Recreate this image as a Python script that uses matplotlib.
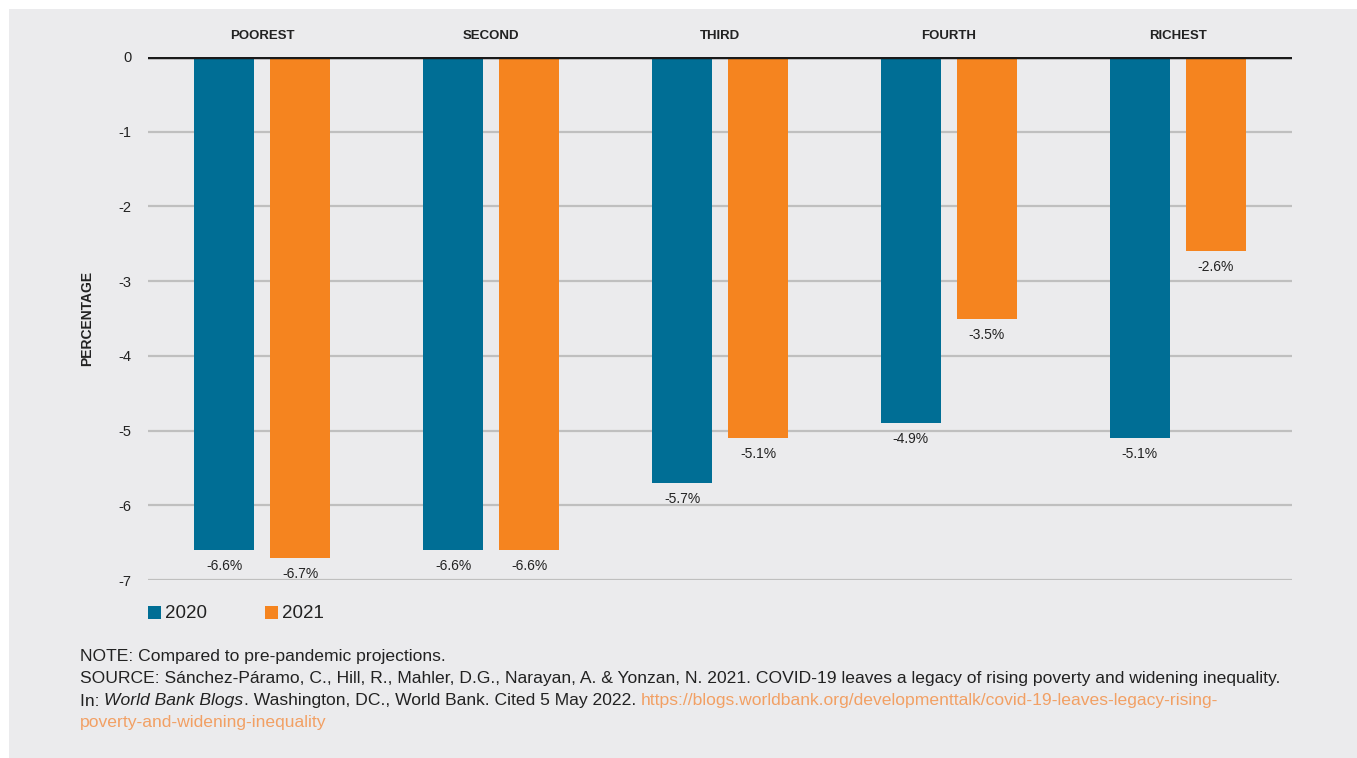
import matplotlib
matplotlib.use("Agg")
import matplotlib.pyplot as plt
from matplotlib.patches import Rectangle
import numpy as np

categories = ["POOREST", "SECOND", "THIRD", "FOURTH", "RICHEST"]
series_names = ["2020", "2021"]
values_2020 = [-6.6, -6.6, -5.7, -4.9, -5.1]
values_2021 = [-6.7, -6.6, -5.1, -3.5, -2.6]
y_ticks = [0, -1, -2, -3, -4, -5, -6, -7]

BLUE = "#006e95"
ORANGE = "#f5841f"
BG = "#ebebed"
LINK = "#f2a064"
TXT = "#222222"

FONT = ["Liberation Sans Narrow", "Liberation Sans", "DejaVu Sans"]
plt.rcParams["font.family"] = FONT

fig = plt.figure(figsize=(13.57, 7.58), dpi=100)
fig.patch.set_facecolor("white")
fig.add_artist(Rectangle((9 / 1357, 0), 1 - 9 / 1357, 1 - 9 / 758,
                         transform=fig.transFigure, facecolor=BG,
                         edgecolor="none", zorder=-10))

ax = fig.add_axes([148 / 1357, 1 - 580 / 758, (1292 - 148) / 1357, (580 - 57) / 758])
ax.set_facecolor("none")
ax.set_xlim(-0.5, 4.5)
ax.set_ylim(-7, 0)

x = np.arange(len(categories))
off = 0.166
w = 0.262
ax.bar(x - off, values_2020, width=w, color=BLUE, zorder=3)
ax.bar(x + off, values_2021, width=w, color=ORANGE, zorder=3)

for xs, vals in [(x - off, values_2020), (x + off, values_2021)]:
    for xi, v in zip(xs, vals):
        ax.text(xi, v - 0.215, f"{v:.1f}%", ha="center", va="center", fontsize=10,
                color=TXT, zorder=4, clip_on=False)

for t in y_ticks:
    if t == 0:
        ax.axhline(t, color="#1a1a1a", lw=2.5, zorder=5)
    else:
        ax.axhline(t, color="#bfbfbf", lw=1.6, zorder=1)

ax.set_yticks(y_ticks)
ax.set_yticklabels([str(t) for t in y_ticks], fontsize=10.5, color=TXT)
ax.tick_params(axis="y", length=0, pad=12)
ax.set_xticks([])
for s in ax.spines.values():
    s.set_visible(False)

for xi, c in zip(x, categories):
    ax.text(xi, 0.2, c, ha="center", va="bottom", fontsize=9.5,
            fontweight="bold", color=TXT, clip_on=False)

fig.text(87 / 1357, 1 - 318 / 758, "PERCENTAGE", rotation=90, ha="center",
         va="center", fontsize=10, fontweight="bold", color=TXT)

# legend
ly = 1 - 613 / 758
for (lx, name, col) in [(148, series_names[0], BLUE), (265, series_names[1], ORANGE)]:
    fig.add_artist(Rectangle((lx / 1357, 1 - 619 / 758), 13 / 1357, 13 / 758,
                             transform=fig.transFigure, facecolor=col, edgecolor="none"))
    fig.text((lx + 17) / 1357, ly, name, ha="left", va="center", fontsize=13.5,
             color=TXT)

# footnotes
fx = 80 / 1357
fs = 12.6
fig.text(fx, 1 - 657 / 758, "NOTE: Compared to pre-pandemic projections.",
         ha="left", va="center", fontsize=fs, color=TXT)
fig.text(fx, 1 - 679 / 758,
         "SOURCE: Sánchez-Páramo, C., Hill, R., Mahler, D.G., Narayan, A. & Yonzan, N. 2021. "
         "COVID-19 leaves a legacy of rising poverty and widening inequality.",
         ha="left", va="center", fontsize=fs, color=TXT)

renderer = fig.canvas.get_renderer()
pieces = [("In: ", TXT, "normal"),
          ("World Bank Blogs", TXT, "italic"),
          (". Washington, DC., World Bank. Cited 5 May 2022. ", TXT, "normal"),
          ("https://blogs.worldbank.org/developmenttalk/covid-19-leaves-legacy-rising-", LINK, "normal")]
cx = fx
yy = 1 - 701 / 758
for s, col, sty in pieces:
    t = fig.text(cx, yy, s, ha="left", va="center", fontsize=fs, color=col, style=sty)
    bb = t.get_window_extent(renderer=renderer)
    cx += bb.width / fig.bbox.width
fig.text(fx, 1 - 723 / 758, "poverty-and-widening-inequality", ha="left",
         va="center", fontsize=fs, color=LINK)

fig.savefig("out.png", dpi=100, facecolor=fig.get_facecolor())
